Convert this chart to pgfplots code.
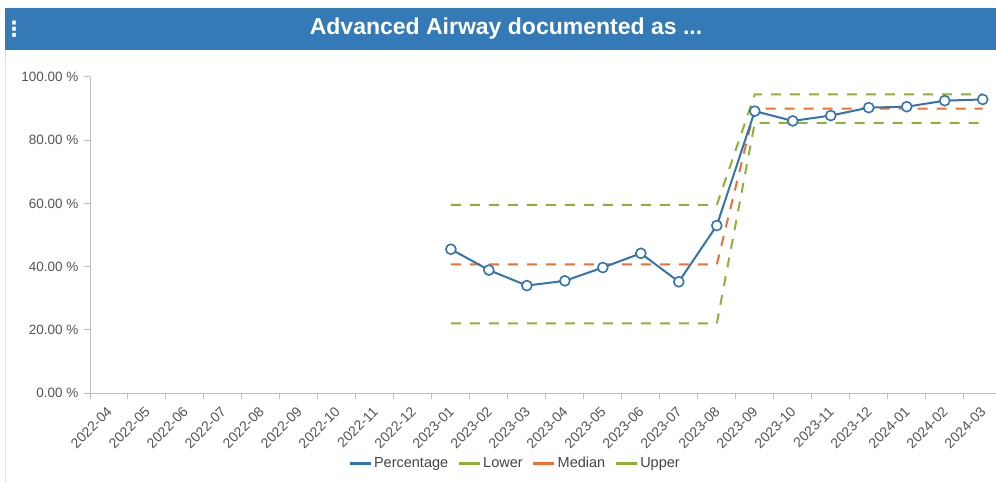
\documentclass[border=0pt]{standalone}
\usepackage{pgfplots}
\pgfplotsset{compat=1.18}
\usepackage{fontspec}
\setmainfont{Liberation Sans}
\newfontfamily\dejavu{DejaVu Sans}
\definecolor{barblue}{HTML}{337AB7}
\definecolor{pctblue}{HTML}{3474AE}
\definecolor{limgreen}{HTML}{8FB035}
\definecolor{medorange}{HTML}{F07030}
\definecolor{axgray}{HTML}{BDBDBD}
\definecolor{txtgray}{HTML}{555555}
\begin{document}
\begin{tikzpicture}
\useasboundingbox (0,0) rectangle (996pt,482pt);
\fill[barblue] (5pt,432pt) rectangle (996pt,474pt);
\draw[gray!25, line width=1pt] (5pt,432pt) -- (5pt,0pt);
\node[text=white, font=\bfseries\fontsize{23}{27}\selectfont] at (506pt,453pt) {Advanced Airway documented as ...};
\node[text=white, font=\dejavu\bfseries\fontsize{21}{23}\selectfont] at (14pt,453pt) {⋮};
\begin{axis}[
  scale only axis, width=906pt, height=316pt,
  at={(90pt,89pt)}, anchor=south west,
  xmin=-0.5, xmax=23.35, ymin=0, ymax=100,
  clip=false,
  axis lines=left,
  axis line style={axgray, line width=1pt, -},
  tick align=outside,
  xtick={0,...,23},
  xticklabels={2022-04,2022-05,2022-06,2022-07,2022-08,2022-09,2022-10,2022-11,2022-12,2023-01,2023-02,2023-03,2023-04,2023-05,2023-06,2023-07,2023-08,2023-09,2023-10,2023-11,2023-12,2024-01,2024-02,2024-03},
  major x tick style={draw=none},
  minor xtick={-0.5,0.5,...,23.5},
  minor x tick style={axgray, line width=1pt},
  minor tick length=6pt,
  ytick={0,20,40,60,80,100},
  yticklabels={0.00 \%,20.00 \%,40.00 \%,60.00 \%,80.00 \%,100.00 \%},
  y tick style={axgray, line width=1pt},
  major tick length=6pt,
  yticklabel style={text=txtgray, font=\fontsize{13.5}{16}\selectfont, xshift=-2pt},
  xticklabel style={text=txtgray, font=\fontsize{14}{16}\selectfont, xshift=3pt, yshift=-8pt, rotate=45, anchor=east},
  legend style={at={(0.469,-0.222)}, anchor=center, legend columns=-1, draw=none, fill=none,
    font=\fontsize{14.5}{16}\selectfont, text=txtgray!80!black,
    /tikz/every even column/.append style={column sep=7pt}},
  legend image code/.code={\draw[#1, solid, mark=none, line width=3pt] (0pt,0pt) -- (21pt,0pt);},
  limit/.style={line width=2pt, dash pattern=on 10pt off 9pt, mark=none},
]
\addlegendimage{pctblue, line width=2pt}
\addlegendentry{Percentage}
\addplot[limgreen, limit] coordinates {(9,22.0)(10,22.0)(11,22.0)(12,22.0)(13,22.0)(14,22.0)(15,22.0)(16,22.0)(17,85.5)(18,85.5)(19,85.5)(20,85.5)(21,85.5)(22,85.5)(23,85.5)};
\addlegendentry{Lower}
\addplot[medorange, limit] coordinates {(9,40.7)(10,40.7)(11,40.7)(12,40.7)(13,40.7)(14,40.7)(15,40.7)(16,40.7)(17,90.0)(18,90.0)(19,90.0)(20,90.0)(21,90.0)(22,90.0)(23,90.0)};
\addlegendentry{Median}
\addplot[limgreen, limit] coordinates {(9,59.5)(10,59.5)(11,59.5)(12,59.5)(13,59.5)(14,59.5)(15,59.5)(16,59.5)(17,94.5)(18,94.5)(19,94.5)(20,94.5)(21,94.5)(22,94.5)(23,94.5)};
\addlegendentry{Upper}
\addplot[pctblue, line width=2pt, mark=*, mark size=5pt, mark options={fill=white, draw=pctblue, line width=1.6pt}, forget plot] coordinates {
(9,45.5)(10,38.9)(11,34.0)(12,35.5)(13,39.7)(14,44.2)(15,35.2)(16,53.0)(17,89.2)(18,86.1)(19,87.8)(20,90.3)(21,90.6)(22,92.5)(23,92.9)};
\end{axis}
\end{tikzpicture}
\end{document}
